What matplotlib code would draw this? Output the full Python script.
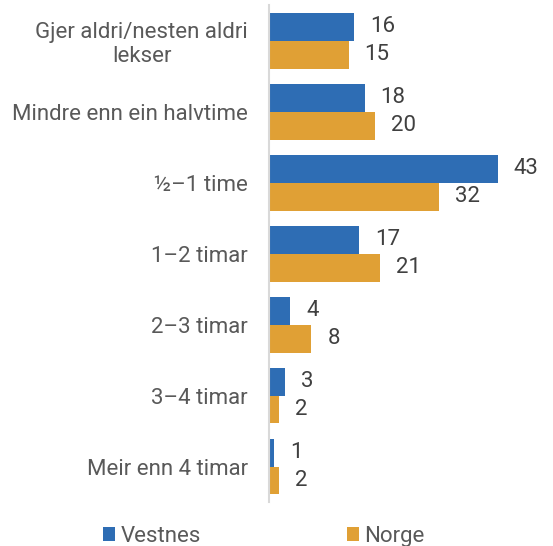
import matplotlib.pyplot as plt
import numpy as np

plt.rcParams["font.family"] = ["Roboto", "DejaVu Sans"]

# Tid brukt på lekser per dag, prosent
categories = [
    "Gjer aldri/nesten aldri\nlekser",
    "Mindre enn ein halvtime",
    "½–1 time",
    "1–2 timar",
    "2–3 timar",
    "3–4 timar",
    "Meir enn 4 timar",
]
vestnes = [16, 18, 43, 17, 4, 3, 1]
norge = [15, 20, 32, 21, 8, 2, 2]

blue = "#2E6DB4"
orange = "#E0A035"
grey_text = "#595959"

fig = plt.figure(figsize=(5.53, 5.46), dpi=100)
ax = fig.add_axes([0.486, 0.0806, 0.481, 0.91])

y = np.arange(len(categories))
h = 0.394
b1 = ax.barh(y - h / 2, vestnes, height=h, color=blue, label="Vestnes")
b2 = ax.barh(y + h / 2, norge, height=h, color=orange, label="Norge")

for bars, vals in ((b1, vestnes), (b2, norge)):
    for bar, v in zip(bars, vals):
        ax.annotate(str(v), (bar.get_width(), bar.get_y() + bar.get_height() / 2),
                    xytext=(16, 0), textcoords="offset pixels",
                    ha="left", va="center", fontsize=16, color="#404040")

ax.set_xlim(0, 50)
ax.set_ylim(len(categories) - 0.5, -0.5)
ax.set_yticks(y)
ax.set_yticklabels(categories, fontsize=16, color=grey_text, multialignment="center")
ax.tick_params(axis="y", length=0, pad=15)
ax.set_xticks([])
for s in ["top", "right", "bottom"]:
    ax.spines[s].set_visible(False)
ax.spines["left"].set_color("#D9D9D9")
ax.spines["left"].set_linewidth(1.5)

fig.legend(handles=[b1, b2], labels=["Vestnes", "Norge"], loc="lower left",
           bbox_to_anchor=(0.15, -0.038), ncol=2, frameon=False, fontsize=16,
           labelcolor=grey_text, handlelength=0.55, handleheight=0.55,
           handletextpad=0.25, columnspacing=6.55)

fig.savefig("out.png", dpi=100)
